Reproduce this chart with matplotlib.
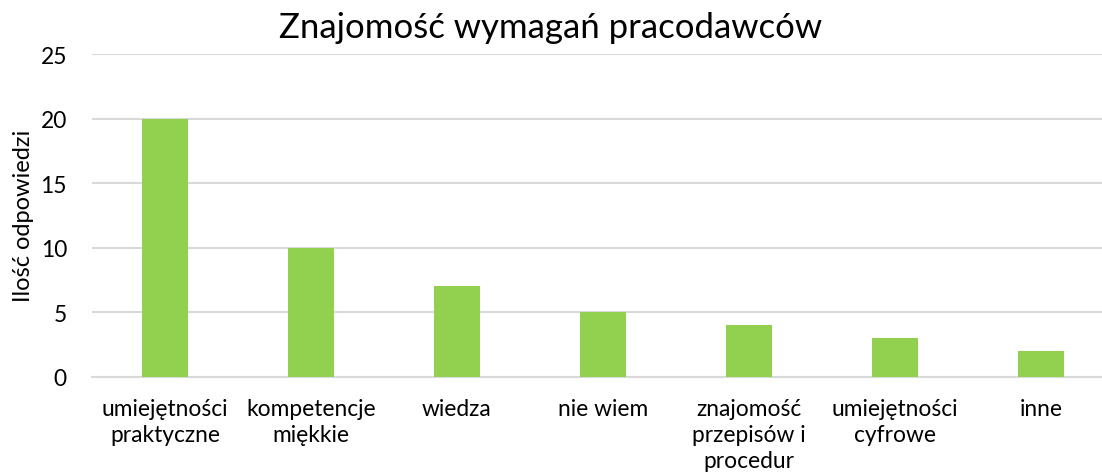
import matplotlib
matplotlib.use("Agg")
import matplotlib.pyplot as plt
import numpy as np

# Data
categories = [
    "umiejętności\npraktyczne",
    "kompetencje\nmiękkie",
    "wiedza",
    "nie wiem",
    "znajomość\nprzepisów i\nprocedur",
    "umiejętności\ncyfrowe",
    "inne",
]
counts = [20, 10, 7, 5, 4, 3, 2]

plt.rcParams["font.family"] = ["Lato", "DejaVu Sans"]

W, H = 1102, 477
fig = plt.figure(figsize=(W / 100, H / 100), dpi=100)
ax = fig.add_axes([92 / W, (H - 377.7) / H, 1022 / W, (377.7 - 55) / H])

x = np.arange(len(categories))
ax.bar(x, counts, width=0.312, color="#92D050", zorder=3)

ax.set_xlim(-0.5, len(categories) - 0.5)
ax.set_ylim(0, 25)
ax.set_yticks(range(0, 26, 5))
ax.yaxis.grid(True, color="#D9D9D9", linewidth=1.5, zorder=0)
ax.set_axisbelow(True)

for s in ["top", "right", "left"]:
    ax.spines[s].set_visible(False)
ax.spines["bottom"].set_color("#D9D9D9")
ax.spines["bottom"].set_linewidth(1.5)

ax.set_xticks(x)
ax.set_xticklabels(categories, fontsize=16.4, color="#000000", linespacing=1.3)
ax.tick_params(axis="x", length=0, pad=15)
ax.tick_params(axis="y", length=0, pad=18, labelsize=16.4)

ax.set_ylabel("Ilość odpowiedzi", fontsize=17)
ax.yaxis.set_label_coords(-58 / 1022, 0.5)
fig.text(0.5, 1 - 28 / H, "Znajomość wymagań pracodawców", ha="center", va="center", fontsize=25)

fig.savefig("out.png", dpi=100)
